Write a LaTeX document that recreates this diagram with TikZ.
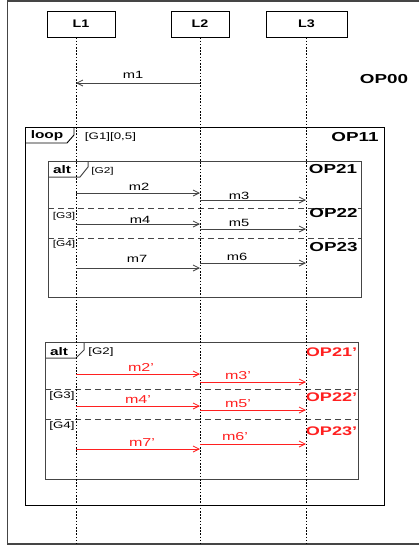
\documentclass[tikz,border=0pt]{standalone}
\usepackage{fontspec}
\usepackage{graphicx}
\setmainfont{Liberation Sans}
\usetikzlibrary{arrows.meta}
\definecolor{myred}{HTML}{FF2020}
\definecolor{framegray}{HTML}{454545}
\newcommand\apo{\char"27\relax}
\begin{document}
\begin{tikzpicture}[x=1pt,y=-1pt,
  head/.style={draw=black, line width=0.9pt, minimum height=26pt, inner sep=0pt,
    font=\bfseries\fontsize{11}{11}\selectfont},
  life/.style={line width=0.8pt, dash pattern=on 1.6pt off 1.6pt},
  msgline/.style={draw=framegray, line width=0.8pt, -{Straight Barb[length=6pt,width=6pt]}},
  rmsgline/.style={draw=myred, line width=0.8pt, -{Straight Barb[length=6pt,width=6pt]}},
  msg/.style={inner sep=0pt, xscale=1.4, font=\fontsize{10.5}{12}\selectfont},
  rmsg/.style={msg, text=myred, font=\fontsize{11.5}{12}\selectfont},
  op/.style={inner sep=0pt, xscale=1.45, font=\bfseries\fontsize{13}{13}\selectfont},
  rop/.style={op, text=myred, font=\bfseries\fontsize{12.5}{13}\selectfont},
  guard/.style={inner sep=0pt, xscale=1.4, font=\fontsize{8.5}{9}\selectfont},
  guardb/.style={guard, font=\fontsize{9.5}{10}\selectfont},
  tabtext/.style={inner sep=0pt, xscale=1.4, font=\bfseries\fontsize{11}{11}\selectfont},
  fragframe/.style={draw=framegray, line width=1pt},
  sep/.style={draw=framegray, line width=0.9pt, dash pattern=on 6pt off 4pt}]
\useasboundingbox (0,0) rectangle (418,549);
% outer frame
\draw[framegray, line width=1.6pt] (420,1) -- (7.5,1) -- (7.5,544) -- (420,544);
% lifeline heads
\node[head, minimum width=68pt] (L1) at (81,24) {\scalebox{1.3}[1]{L1}\hspace{10pt}};
\node[head, minimum width=58pt] (L2) at (200,24) {\scalebox{1.3}[1]{L2}};
\node[head, minimum width=81pt] (L3) at (306.5,24) {\scalebox{1.3}[1]{L3}};
\coordinate (E1) at (76,544);
\coordinate (E2) at (200,544);
\coordinate (E3) at (306,544);
% loop frame
\draw[black, line width=1pt] (25,127) rectangle (384,505);
\draw[black, line width=0.9pt] (25,143) -- (67,143) -- (74,135) -- (74,127);
\node[tabtext] (tloop) at (47,135.5) {loop};
\node[guardb] (g1) at (110.5,137.5) {[G1][0,5]};
\node[op] (op11) at (355,137.5) {OP11};
% first alt
\draw[fragframe] (48,161) rectangle (361,297);
\draw[fragframe] (48,177) -- (80,177) -- (88,167) -- (88,161);
\node[tabtext] (talt1) at (62,170) {alt};
\node[guard] (g2) at (102.5,171) {[G2]};
\node[guard] (g3) at (64,216.5) {[G3]};
\node[guard] (g4) at (64,244.5) {[G4]};
\draw[sep] (48,208) -- (361,208);
\draw[sep] (48,238) -- (361,238);
\node[op] (op21) at (333,169.5) {OP21};
\node[op] (op22) at (333.5,213) {OP22};
\node[op] (op23) at (333.5,247.5) {OP23};
% second alt
\draw[fragframe] (45,342) rectangle (358,479);
\draw[fragframe] (45,358) -- (76,358) -- (84,350) -- (84,342);
\node[tabtext] (talt2) at (59,351.5) {alt};
\node[guardb] (g2b) at (101,352.5) {[G2]};
\node[guardb] (g3b) at (62,396.5) {[G3]};
\node[guardb] (g4b) at (62,426) {[G4]};
\draw[sep] (45,389) -- (358,389);
\draw[sep] (45,419) -- (358,419);
\node[rop] (op21b) at (331.5,352.5) {OP21\apo};
\node[rop] (op22b) at (331.5,397) {OP22\apo};
\node[rop] (op23b) at (331.5,431) {OP23\apo};
% lifelines
\draw[life] (L1.south -| E1) -- (E1);
\draw[life] (L2.south) -- (E2);
\draw[life] (L3.south -| E3) -- (E3);
% OP00 and m1
\node[op] (op00) at (384,79) {OP00};
\draw[msgline] (E2 |- 0,83) -- (E1 |- 0,83);
\node[msg] (m1) at (133,75) {m1};
% black messages
\draw[msgline] (E1 |- 0,193) -- (E2 |- 0,193);
\node[msg] (m2) at (139,187) {m2};
\draw[msgline] (E2 |- 0,200) -- (E3 |- 0,200);
\node[msg] (m3) at (239,195.5) {m3};
\draw[msgline] (E1 |- 0,224) -- (E2 |- 0,224);
\node[msg] (m4) at (140,219.5) {m4};
\draw[msgline] (E2 |- 0,229) -- (E3 |- 0,229);
\node[msg] (m5) at (239,223) {m5};
\draw[msgline] (E2 |- 0,263) -- (E3 |- 0,263);
\node[msg] (m6) at (237,257) {m6};
\draw[msgline] (E1 |- 0,268) -- (E2 |- 0,268);
\node[msg] (m7) at (137,259) {m7};
% red messages
\draw[rmsgline] (E1 |- 0,374) -- (E2 |- 0,374);
\node[rmsg] (m2b) at (141,367.5) {m2\apo};
\draw[rmsgline] (E2 |- 0,382) -- (E3 |- 0,382);
\node[rmsg] (m3b) at (238,375.5) {m3\apo};
\draw[rmsgline] (E1 |- 0,406) -- (E2 |- 0,406);
\node[rmsg] (m4b) at (138,399.5) {m4\apo};
\draw[rmsgline] (E2 |- 0,410) -- (E3 |- 0,410);
\node[rmsg] (m5b) at (238,403.5) {m5\apo};
\draw[rmsgline] (E2 |- 0,444) -- (E3 |- 0,444);
\node[rmsg] (m6b) at (235,437) {m6\apo};
\draw[rmsgline] (E1 |- 0,449) -- (E2 |- 0,449);
\node[rmsg] (m7b) at (142,443) {m7\apo};
\end{tikzpicture}
\end{document}
